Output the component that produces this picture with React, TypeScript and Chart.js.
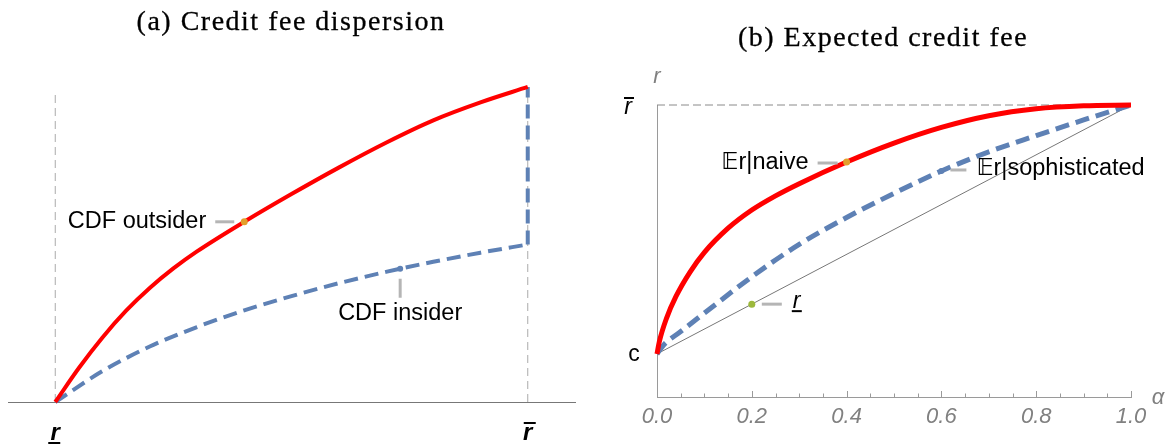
import React, { useEffect, useRef } from 'react';
import { Chart, registerables } from 'chart.js';

Chart.register(...registerables);

// ---------------- Panel (a): Credit fee dispersion ----------------
const aOutX = [0, 0.05, 0.1, 0.15, 0.2, 0.25, 0.3, 0.4, 0.5, 0.6, 0.7, 0.8, 0.9, 1];
const aOutsider = [0, 0.108, 0.205, 0.29, 0.362, 0.424, 0.478, 0.572, 0.66, 0.744, 0.823, 0.894, 0.951, 1];
const aInX = [0, 0.1, 0.2, 0.3, 0.4, 0.5, 0.6, 0.7, 0.8, 0.9, 1];
const aInsider = [0, 0.098, 0.176, 0.238, 0.291, 0.336, 0.377, 0.413, 0.445, 0.474, 0.5];
const aJumpX = [1, 1];
const aJumpY = [0.5, 1];
const aGuideX = [0, 1];
const aGuideY = [0, 0.99];
const aTickValues = [0, 1];
const aTickLabels = ['r', 'r'];
const aTickMarks = ['under', 'over'];
const aCalloutX = [0.4, 0.73];
const aCalloutY = [0.572, 0.423];
const aCalloutText = ['CDF outsider', 'CDF insider'];

// ---------------- Panel (b): Expected credit fee ----------------
const bNaiveX = [0, 0.005, 0.02, 0.04, 0.07, 0.1, 0.15, 0.2, 0.25, 0.3, 0.4, 0.5, 0.6, 0.7, 0.8, 0.9, 1];
const bNaive = [0, 0.05, 0.143, 0.231, 0.33, 0.408, 0.505, 0.578, 0.635, 0.684, 0.771, 0.847, 0.91, 0.957, 0.985, 0.997, 1];
const bSophX = [0, 0.015, 0.05, 0.1, 0.2, 0.3, 0.4, 0.5, 0.6, 0.7, 0.8, 0.9, 1];
const bSoph = [0, 0.038, 0.09, 0.164, 0.31, 0.44, 0.548, 0.645, 0.735, 0.812, 0.877, 0.94, 1];
const bLowerX = [0, 1];
const bLower = [0, 1];
const bTopX = [0, 1];
const bTop = [1, 1];
const bTickValues = [0, 0.2, 0.4, 0.6, 0.8, 1];
const bTickLabels = ['0.0', '0.2', '0.4', '0.6', '0.8', '1.0'];
const bMinorTicks = [0.05, 0.1, 0.15, 0.25, 0.3, 0.35, 0.45, 0.5, 0.55, 0.65, 0.7, 0.75, 0.85, 0.9, 0.95];
const bYLabelValues = [0, 1];
const bYLabels = ['c', 'r'];
const bCalloutX = [0.4, 0.6, 0.2];
const bCalloutY = [0.771, 0.735, 0.2];
const bCalloutText = ['\u{1D53C}r|naive', '\u{1D53C}r|sophisticated', 'r'];

const RED = '#ff0000';
const BLUE = '#5e81b5';
const ORANGE = '#e39f2c';
const GREEN = '#9cb83c';
const CALLOUT = '#b5b5b5';
const AXIS = '#9a9a9a';
const SANS = '"Liberation Sans", Arial, "DejaVu Sans", sans-serif';
const LABEL_FONT = `23.5px ${SANS}`;

const pts = (xs: number[], ys: number[]) => xs.map((x, i) => ({ x, y: ys[i] }));

function seg(ctx: CanvasRenderingContext2D, x1: number, y1: number, x2: number, y2: number, color: string, w: number) {
  ctx.beginPath();
  ctx.strokeStyle = color;
  ctx.lineWidth = w;
  ctx.moveTo(x1, y1);
  ctx.lineTo(x2, y2);
  ctx.stroke();
}

function txt(ctx: CanvasRenderingContext2D, s: string, x: number, y: number, align: CanvasTextAlign, font: string, color: string) {
  ctx.font = font;
  ctx.fillStyle = color;
  ctx.textAlign = align;
  ctx.textBaseline = 'middle';
  ctx.fillText(s, x, y);
}

const aDecor = {
  id: 'aDecor',
  afterDatasetsDraw(chart: any) {
    const { ctx } = chart;
    const x = chart.scales.x;
    const y = chart.scales.y;
    ctx.save();
    const ox = x.getPixelForValue(aCalloutX[0]);
    const oy = y.getPixelForValue(aCalloutY[0]);
    seg(ctx, ox - 29, oy, ox - 10, oy, CALLOUT, 3);
    txt(ctx, aCalloutText[0], ox - 38, oy, 'right', LABEL_FONT, '#000');
    const ix = x.getPixelForValue(aCalloutX[1]);
    const iy = y.getPixelForValue(aCalloutY[1]);
    seg(ctx, ix, iy + 10, ix, iy + 29, CALLOUT, 3);
    txt(ctx, aCalloutText[1], ix, iy + 45, 'center', LABEL_FONT, '#000');
    aTickValues.forEach((v, i) => {
      const px = x.getPixelForValue(v);
      const py = x.top + 31;
      txt(ctx, aTickLabels[i], px, py, 'center', `italic bold 24px ${SANS}`, '#000');
      if (aTickMarks[i] === 'under') seg(ctx, px - 7, x.top + 41, px + 5, x.top + 41, '#000', 2);
      else seg(ctx, px - 4, x.top + 21, px + 8, x.top + 21, '#000', 2);
    });
    ctx.restore();
  },
};

const bDecor = {
  id: 'bDecor',
  afterDatasetsDraw(chart: any) {
    const { ctx } = chart;
    const x = chart.scales.x;
    const y = chart.scales.y;
    ctx.save();
    bTickValues.forEach((v) => {
      const px = Math.round(x.getPixelForValue(v)) + 0.5;
      seg(ctx, px, x.top, px, x.top - 6, AXIS, 1);
    });
    bMinorTicks.forEach((v) => {
      const px = Math.round(x.getPixelForValue(v)) + 0.5;
      seg(ctx, px, x.top, px, x.top - 3.5, AXIS, 1);
    });
    bYLabelValues.forEach((v, i) => {
      const py = y.getPixelForValue(v);
      if (i === 0) {
        txt(ctx, bYLabels[i], x.left - 23, py + 1, 'center', `23px ${SANS}`, '#000');
      } else {
        txt(ctx, bYLabels[i], x.left - 29, py + 3, 'center', `italic 23px ${SANS}`, '#000');
        seg(ctx, x.left - 33, py - 7, x.left - 23, py - 7, '#000', 2);
      }
    });
    txt(ctx, 'r', x.left, y.top - 28, 'center', `italic 22px ${SANS}`, '#808080');
    txt(ctx, '\u03B1', x.right + 27, x.top + 1, 'center', `italic 22px ${SANS}`, '#808080');
    const nx = x.getPixelForValue(bCalloutX[0]);
    const ny = y.getPixelForValue(bCalloutY[0]);
    seg(ctx, nx - 29, ny + 1, nx - 9, ny + 1, CALLOUT, 3);
    txt(ctx, bCalloutText[0], nx - 38, ny + 1, 'right', LABEL_FONT, '#000');
    const sx = x.getPixelForValue(bCalloutX[1]);
    const sy = y.getPixelForValue(bCalloutY[1]);
    seg(ctx, sx + 9, sy - 1, sx + 25, sy - 1, CALLOUT, 3);
    txt(ctx, bCalloutText[1], sx + 35, sy - 2, 'left', LABEL_FONT, '#000');
    const lx = x.getPixelForValue(bCalloutX[2]);
    const ly = y.getPixelForValue(bCalloutY[2]);
    seg(ctx, lx + 10, ly, lx + 30, ly, CALLOUT, 3);
    txt(ctx, bCalloutText[2], lx + 41, ly - 3, 'left', `italic 23px ${SANS}`, '#000');
    seg(ctx, lx + 40, ly + 7, lx + 50, ly + 7, '#000', 2);
    ctx.restore();
  },
};

function PanelA() {
  const ref = useRef<HTMLCanvasElement | null>(null);
  useEffect(() => {
    if (!ref.current) return;
    const chart = new Chart(ref.current, {
      type: 'line',
      data: {
        datasets: [
          { label: 'outsider point', data: [{ x: aCalloutX[0], y: aCalloutY[0] }], showLine: false, pointRadius: 3.5, pointBackgroundColor: ORANGE, pointBorderWidth: 0, clip: false } as any,
          { label: 'CDF outsider', data: pts(aOutX, aOutsider), borderColor: RED, borderWidth: 4, pointRadius: 0, cubicInterpolationMode: 'monotone', clip: false } as any,
          { label: 'insider point', data: [{ x: aCalloutX[1], y: aCalloutY[1] }], showLine: false, pointRadius: 3, pointBackgroundColor: BLUE, pointBorderWidth: 0, clip: false } as any,
          { label: 'CDF insider', data: pts(aInX, aInsider), borderColor: BLUE, borderWidth: 4, borderDash: [14, 7], pointRadius: 0, cubicInterpolationMode: 'monotone', clip: false } as any,
          { label: 'jump', data: pts(aJumpX, aJumpY), borderColor: BLUE, borderWidth: 4, borderDash: [14, 7], pointRadius: 0, clip: false } as any,
          { label: 'guide left', data: pts([aGuideX[0], aGuideX[0]], aGuideY), borderColor: '#aaaaaa', borderWidth: 1, borderDash: [8, 5], pointRadius: 0, clip: false } as any,
          { label: 'guide right', data: pts([aGuideX[1], aGuideX[1]], aGuideY), borderColor: '#aaaaaa', borderWidth: 1, borderDash: [8, 5], pointRadius: 0, clip: false } as any,
        ],
      },
      options: {
        animation: false,
        responsive: false,
        layout: { padding: { left: 8, right: 10, top: 75, bottom: 0 } },
        plugins: { legend: { display: false }, tooltip: { enabled: false }, title: { display: false } },
        scales: {
          x: {
            type: 'linear', min: -0.1, max: 1.1,
            grid: { display: false, drawTicks: false },
            border: { display: true, color: '#777777', width: 1 },
            ticks: { display: false },
            afterFit: (s: any) => { s.height = 44; },
          },
          y: { type: 'linear', min: 0, max: 1.038, display: false },
        },
      } as any,
      plugins: [aDecor],
    });
    return () => chart.destroy();
  }, []);
  return <canvas ref={ref} width={585} height={446} style={{ position: 'absolute', left: 0, top: 0 }} />;
}

function PanelB() {
  const ref = useRef<HTMLCanvasElement | null>(null);
  useEffect(() => {
    if (!ref.current) return;
    const chart = new Chart(ref.current, {
      type: 'line',
      data: {
        datasets: [
          { label: 'naive point', data: [{ x: bCalloutX[0], y: bCalloutY[0] }], showLine: false, pointRadius: 3.5, pointBackgroundColor: ORANGE, pointBorderWidth: 0, clip: false } as any,
          { label: 'Er|naive', data: pts(bNaiveX, bNaive), borderColor: RED, borderWidth: 5, pointRadius: 0, cubicInterpolationMode: 'monotone', clip: false } as any,
          { label: 'soph point', data: [{ x: bCalloutX[1], y: bCalloutY[1] }], showLine: false, pointRadius: 3, pointBackgroundColor: BLUE, pointBorderWidth: 0, clip: false } as any,
          { label: 'Er|sophisticated', data: pts(bSophX, bSoph), borderColor: BLUE, borderWidth: 5, borderDash: [14, 7], pointRadius: 0, cubicInterpolationMode: 'monotone', clip: false } as any,
          { label: 'lower point', data: [{ x: bCalloutX[2], y: bCalloutY[2] }], showLine: false, pointRadius: 3.5, pointBackgroundColor: GREEN, pointBorderWidth: 0, clip: false } as any,
          { label: 'r lower', data: pts(bLowerX, bLower), borderColor: '#777777', borderWidth: 1, pointRadius: 0, clip: false } as any,
          { label: 'r bar', data: pts(bTopX, bTop), borderColor: '#8a8a8a', borderWidth: 1, borderDash: [8, 4], pointRadius: 0, clip: false } as any,
        ],
      },
      options: {
        animation: false,
        responsive: false,
        layout: { padding: { left: 0, right: 36, top: 105, bottom: 0 } },
        plugins: { legend: { display: false }, tooltip: { enabled: false }, title: { display: false } },
        scales: {
          x: {
            type: 'linear', min: 0, max: 1,
            afterBuildTicks: (s: any) => { s.ticks = bTickValues.map((v) => ({ value: v })); },
            ticks: {
              autoSkip: false, maxRotation: 0, padding: 7,
              callback: (_v: any, i: number) => bTickLabels[i],
              font: { family: SANS, size: 22, style: 'italic' },
              color: '#808080',
            },
            grid: { display: false, drawTicks: false },
            border: { display: true, color: AXIS, width: 1 },
            afterFit: (s: any) => { s.height = 49; },
          },
          y: {
            type: 'linear', min: -0.173, max: 1,
            afterBuildTicks: (s: any) => { s.ticks = []; },
            ticks: { display: false },
            grid: { display: false, drawTicks: false },
            border: { display: true, color: AXIS, width: 1 },
            afterFit: (s: any) => { s.width = 72; },
          },
        },
      } as any,
      plugins: [bDecor],
    });
    return () => chart.destroy();
  }, []);
  return <canvas ref={ref} width={582} height={446} style={{ position: 'absolute', left: 585, top: 0 }} />;
}

const titleStyle: React.CSSProperties = {
  position: 'absolute',
  fontFamily: '"Liberation Serif", "DejaVu Serif", serif',
  fontSize: 28,
  lineHeight: '30px',
  textAlign: 'center',
  color: '#000',
  letterSpacing: 1.5,
  whiteSpace: 'nowrap',
  WebkitTextStroke: '0.3px #000',
};

export default function App() {
  return (
    <div style={{ position: 'absolute', left: 0, top: 0, width: 1167, height: 446, background: '#fff' }}>
      <PanelA />
      <PanelB />
      <div style={{ ...titleStyle, left: 0, width: 582, top: 6 }}>(a) Credit fee dispersion</div>
      <div style={{ ...titleStyle, left: 585, width: 596, top: 22 }}>(b) Expected credit fee</div>
    </div>
  );
}
